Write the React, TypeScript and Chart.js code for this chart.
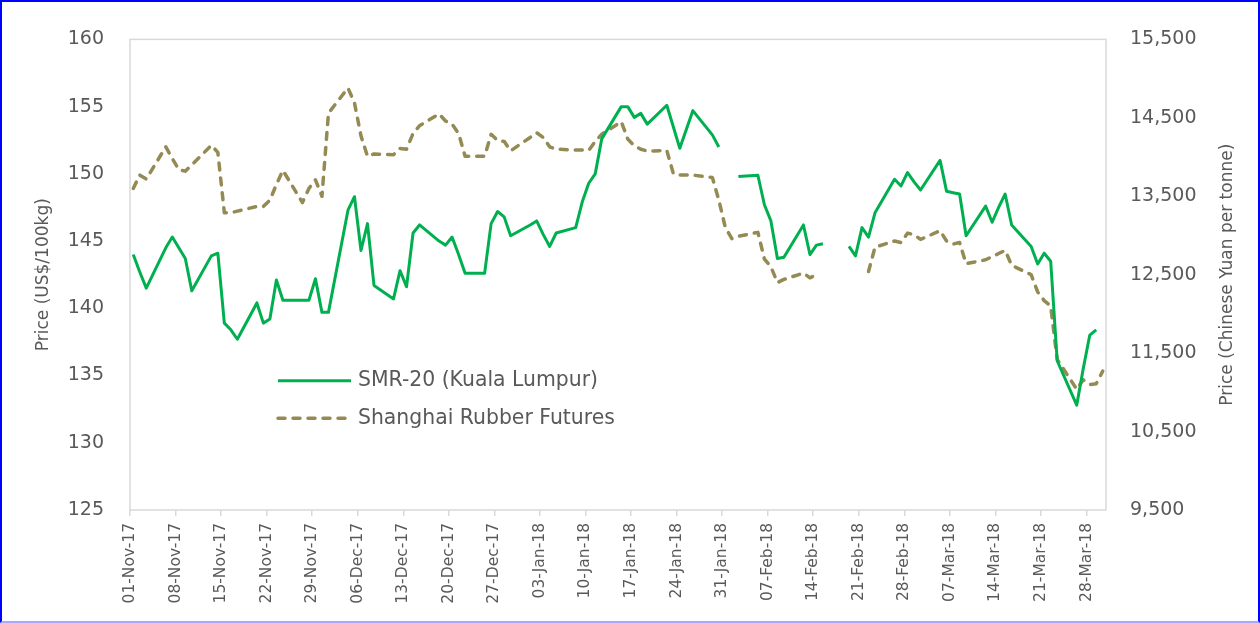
import React, { useEffect, useRef } from "react";
import { Chart, registerables } from "chart.js";

Chart.register(...registerables);

// ---- Data ----
const tradeDates: string[] = [
  "2017-11-01", "2017-11-02", "2017-11-03", "2017-11-06", "2017-11-07", "2017-11-08", "2017-11-09", "2017-11-10",
  "2017-11-13", "2017-11-14", "2017-11-15", "2017-11-16", "2017-11-17", "2017-11-20", "2017-11-21", "2017-11-22",
  "2017-11-23", "2017-11-24", "2017-11-27", "2017-11-28", "2017-11-29", "2017-11-30", "2017-12-01", "2017-12-04",
  "2017-12-05", "2017-12-06", "2017-12-07", "2017-12-08", "2017-12-11", "2017-12-12", "2017-12-13", "2017-12-14",
  "2017-12-15", "2017-12-18", "2017-12-19", "2017-12-20", "2017-12-21", "2017-12-22", "2017-12-25", "2017-12-26",
  "2017-12-27", "2017-12-28", "2017-12-29", "2018-01-01", "2018-01-02", "2018-01-03", "2018-01-04", "2018-01-05",
  "2018-01-08", "2018-01-09", "2018-01-10", "2018-01-11", "2018-01-12", "2018-01-15", "2018-01-16", "2018-01-17",
  "2018-01-18", "2018-01-19", "2018-01-22", "2018-01-23", "2018-01-24", "2018-01-25", "2018-01-26", "2018-01-29",
  "2018-01-30", "2018-01-31", "2018-02-01", "2018-02-02", "2018-02-05", "2018-02-06", "2018-02-07", "2018-02-08",
  "2018-02-09", "2018-02-12", "2018-02-13", "2018-02-14", "2018-02-15", "2018-02-16", "2018-02-19", "2018-02-20",
  "2018-02-21", "2018-02-22", "2018-02-23", "2018-02-26", "2018-02-27", "2018-02-28", "2018-03-01", "2018-03-02",
  "2018-03-05", "2018-03-06", "2018-03-07", "2018-03-08", "2018-03-09", "2018-03-12", "2018-03-13", "2018-03-14",
  "2018-03-15", "2018-03-16", "2018-03-19", "2018-03-20", "2018-03-21", "2018-03-22", "2018-03-23", "2018-03-26",
  "2018-03-27", "2018-03-28", "2018-03-29", "2018-03-30",
];

const smrValues: (number | null)[] = [
  144.0, 142.7, 141.5, 144.5, 145.3, 144.5, 143.7, 141.3,
  143.9, 144.1, 138.9, 138.4, 137.7, 140.4, 138.9, 139.2,
  142.1, 140.6, 140.6, 140.6, 142.2, 139.7, 139.7, 147.3,
  148.3, 144.3, 146.3, 141.7, 140.7, 142.8, 141.6, 145.6,
  146.2, 145.0, 144.7, 145.3, 144.0, 142.6, 142.6, 146.3,
  147.2, 146.8, 145.4, 146.2, 146.5, 145.5, 144.6, 145.6,
  146.0, 147.9, 149.3, 150.0, 152.6, 155.0, 155.0, 154.2,
  154.5, 153.7, 155.1, 153.5, 151.9, 153.3, 154.7, 152.9,
  152.0, null, null, 149.8, 149.9, 147.7, 146.5, 143.7,
  143.8, 146.2, 144.0, 144.7, 144.8, null, 144.6, 143.9,
  146.0, 145.3, 147.1, 149.6, 149.1, 150.1, 149.4, 148.8,
  151.0, 148.7, 148.6, 148.5, 145.4, 147.6, 146.4, 147.5,
  148.5, 146.2, 144.6, 143.3, 144.1, 143.5, 136.1, 132.8,
  135.5, 138.0, 138.4, null,
];

const shanghaiValues: (number | null)[] = [
  13600, 13770, 13720, 14130, 13980, 13840, 13820, 13900,
  14150, 14060, 13290, 13290, 13310, 13370, 13370, 13450,
  13650, 13830, 13420, 13600, 13710, 13500, 14560, 14880,
  14690, 14270, 14010, 14040, 14030, 14110, 14100, 14300,
  14400, 14550, 14460, 14420, 14300, 14010, 14010, 14290,
  14210, 14200, 14080, 14250, 14310, 14250, 14130, 14100,
  14090, 14090, 14085, 14200, 14290, 14450, 14230, 14145,
  14100, 14076, 14085, 13790, 13770, 13770, 13770, 13740,
  13450, 13100, 12960, 12990, 13040, 12700, 12600, 12400,
  12440, 12520, 12460, 12500, null, null, null, null,
  null, 12540, 12850, 12930, 12910, 13030, 13010, 12950,
  13060, 12930, 12890, 12910, 12640, 12690, 12730, 12770,
  12810, 12620, 12500, 12280, 12170, 12100, 11420, 11040,
  11160, 11100, 11110, 11270,
];

const xTickDates: string[] = [
  "2017-11-01", "2017-11-08", "2017-11-15", "2017-11-22", "2017-11-29", "2017-12-06", "2017-12-13",
  "2017-12-20", "2017-12-27", "2018-01-03", "2018-01-10", "2018-01-17", "2018-01-24", "2018-01-31",
  "2018-02-07", "2018-02-14", "2018-02-21", "2018-02-28", "2018-03-07", "2018-03-14", "2018-03-21",
  "2018-03-28",
];

const leftTicks: number[] = [125, 130, 135, 140, 145, 150, 155, 160];
const rightTicks: number[] = [9500, 10500, 11500, 12500, 13500, 14500, 15500];

const seriesLabels: string[] = ["SMR-20 (Kuala Lumpur)", "Shanghai Rubber Futures"];
const axisTitles: string[] = ["Price (US$/100kg)", "Price (Chinese Yuan per tonne)"];

// ---- Helpers ----
const START = Date.UTC(2017, 10, 1);
const DAY = 86400000;
const TOTAL_DAYS = 150;
const MONTHS = ["Jan", "Feb", "Mar", "Apr", "May", "Jun", "Jul", "Aug", "Sep", "Oct", "Nov", "Dec"];

function dayIndex(iso: string): number {
  const [y, m, d] = iso.split("-").map(Number);
  return Math.round((Date.UTC(y, m - 1, d) - START) / DAY);
}

function fmtDay(v: number): string {
  const dt = new Date(START + Math.round(v) * DAY);
  const dd = String(dt.getUTCDate()).padStart(2, "0");
  return `${dd}-${MONTHS[dt.getUTCMonth()]}-${String(dt.getUTCFullYear()).slice(2)}`;
}

const GREEN = "#00B050";
const OLIVE = "#948A54";
const TEXT = "#595959";
const FRAME = "#D9D9D9";
const FONT = "'DejaVu Sans', sans-serif";

const W = 1256;
const H = 619;
const AREA = { left: 128, top: 15, right: 1104, bottom: 508 };

const framePlugin = {
  id: "frame",
  afterDraw(chart: any) {
    const { ctx, chartArea } = chart;
    ctx.save();
    ctx.strokeStyle = FRAME;
    ctx.lineWidth = 1.5;
    ctx.strokeRect(chartArea.left, chartArea.top, chartArea.right - chartArea.left, chartArea.bottom - chartArea.top);
    ctx.restore();
  },
};

const legendPlugin = {
  id: "insideLegend",
  afterDraw(chart: any) {
    const { ctx } = chart;
    const rows = [378.7, 416.3];
    ctx.save();
    chart.data.datasets.forEach((ds: any, i: number) => {
      const y = rows[i];
      ctx.beginPath();
      ctx.strokeStyle = ds.borderColor;
      ctx.lineWidth = ds.borderWidth;
      ctx.lineCap = ds.borderCapStyle || "butt";
      ctx.setLineDash(ds.borderDash || []);
      ctx.moveTo(276, y);
      ctx.lineTo(349, y);
      ctx.stroke();
      ctx.setLineDash([]);
      ctx.fillStyle = TEXT;
      ctx.font = `20.4px ${FONT}`;
      ctx.textBaseline = "middle";
      ctx.textAlign = "left";
      ctx.fillText(ds.label, 356, y);
    });
    ctx.restore();
  },
};

const axisTitlePlugin = {
  id: "axisTitles",
  afterDraw(chart: any) {
    const { ctx, chartArea } = chart;
    const cy = (chartArea.top + chartArea.bottom) / 2;
    const spots = [42, 1226];
    ctx.save();
    ctx.fillStyle = TEXT;
    ctx.font = `17px ${FONT}`;
    ctx.textAlign = "center";
    ctx.textBaseline = "middle";
    axisTitles.forEach((t, i) => {
      ctx.save();
      ctx.translate(spots[i], cy);
      ctx.rotate(-Math.PI / 2);
      ctx.fillText(t, 0, 0);
      ctx.restore();
    });
    ctx.restore();
  },
};

export default function App() {
  const ref = useRef<HTMLCanvasElement | null>(null);

  useEffect(() => {
    document.body.style.margin = "0";
    if (!ref.current) return;
    const smrPoints = tradeDates.map((d, i) => ({ x: dayIndex(d) + 0.5, y: smrValues[i] }));
    const shPoints = tradeDates.map((d, i) => ({ x: dayIndex(d) + 0.5, y: shanghaiValues[i] }));

    const chart = new Chart(ref.current, {
      type: "line",
      data: {
        datasets: [
          {
            label: seriesLabels[0],
            data: smrPoints as any,
            yAxisID: "y",
            borderColor: GREEN,
            backgroundColor: GREEN,
            borderWidth: 3,
            pointRadius: 0,
            tension: 0,
            spanGaps: false,
            borderCapStyle: "butt",
            borderJoinStyle: "round",
          },
          {
            label: seriesLabels[1],
            data: shPoints as any,
            yAxisID: "y1",
            borderColor: OLIVE,
            backgroundColor: OLIVE,
            borderWidth: 3.5,
            borderDash: [7, 8],
            borderCapStyle: "round",
            borderJoinStyle: "round",
            pointRadius: 0,
            tension: 0,
            spanGaps: false,
          },
        ],
      },
      options: {
        responsive: false,
        animation: false,
        devicePixelRatio: 1,
        layout: { padding: { top: AREA.top, left: 0, right: 0, bottom: 0 } },
        plugins: {
          legend: { display: false },
          tooltip: { enabled: false },
          title: { display: false },
        },
        scales: {
          x: {
            type: "linear",
            position: "bottom",
            min: 0,
            max: TOTAL_DAYS,
            afterBuildTicks: (scale: any) => {
              scale.ticks = xTickDates.map((d) => ({ value: dayIndex(d) }));
            },
            afterFit: (scale: any) => {
              scale.height = H - AREA.bottom;
            },
            ticks: {
              autoSkip: false,
              maxRotation: 90,
              minRotation: 90,
              padding: 7,
              color: TEXT,
              font: { family: FONT, size: 15.5 },
              callback: (v: any) => fmtDay(Number(v)),
            },
            grid: {
              display: true,
              drawOnChartArea: false,
              drawTicks: true,
              tickLength: 6,
              color: FRAME,
              lineWidth: 1.5,
            },
            border: { display: false },
          },
          y: {
            type: "linear",
            position: "left",
            min: leftTicks[0],
            max: leftTicks[leftTicks.length - 1],
            afterBuildTicks: (scale: any) => {
              scale.ticks = leftTicks.map((v) => ({ value: v }));
            },
            afterFit: (scale: any) => {
              scale.width = AREA.left;
            },
            ticks: {
              padding: 26,
              color: TEXT,
              font: { family: FONT, size: 19 },
              callback: (v: any) => String(v),
            },
            grid: { display: false, drawTicks: false },
            border: { display: false },
          },
          y1: {
            type: "linear",
            position: "right",
            min: rightTicks[0],
            max: rightTicks[rightTicks.length - 1],
            afterBuildTicks: (scale: any) => {
              scale.ticks = rightTicks.map((v) => ({ value: v }));
            },
            afterFit: (scale: any) => {
              scale.width = W - AREA.right;
            },
            ticks: {
              padding: 24,
              color: TEXT,
              font: { family: FONT, size: 19 },
              callback: (v: any) => Number(v).toLocaleString("en-US"),
            },
            grid: { display: false, drawTicks: false },
            border: { display: false },
          },
        },
      } as any,
      plugins: [framePlugin, legendPlugin, axisTitlePlugin],
    });
    return () => chart.destroy();
  }, []);

  return (
    <div
      style={{
        width: 1260,
        height: 623,
        boxSizing: "border-box",
        borderTop: "2px solid #0000FF",
        borderLeft: "2px solid #0000FF",
        borderRight: "2px solid #0000FF",
        borderBottom: "2px solid #A8A8FF",
        background: "#FFFFFF",
        position: "relative",
        overflow: "hidden",
      }}
    >
      <canvas ref={ref} width={W} height={H} style={{ display: "block", width: W, height: H }} />
    </div>
  );
}
